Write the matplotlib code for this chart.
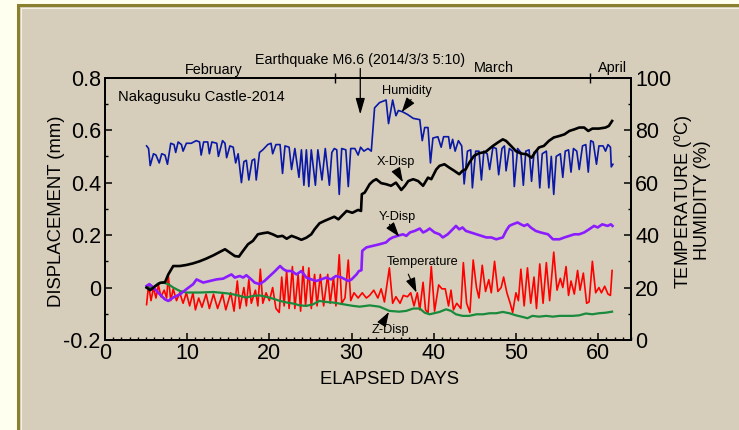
import matplotlib
matplotlib.use('Agg')
import matplotlib.pyplot as plt
from matplotlib.patches import Rectangle
from matplotlib.ticker import MultipleLocator, FuncFormatter

plt.rcParams['font.family'] = ['Liberation Sans', 'DejaVu Sans']
plt.rcParams['mathtext.fontset'] = 'custom'
plt.rcParams['mathtext.rm'] = 'Liberation Sans'
plt.rcParams['axes.unicode_minus'] = False

# Nakagusuku Castle monitoring, 2014 (day 0 = Feb 1)
# humidity (%) - (elapsed day, value)
humidity = [(5.06, 74), (5.3, 73), (5.5, 66.5), (5.9, 71), (6.2, 70.5), (6.6, 67.5), (6.9, 71),
            (7.3, 70.5), (7.6, 67), (8.0, 75), (8.4, 74.5), (8.6, 71.5), (8.9, 75.5), (9.3, 74.5),
            (9.5, 72), (9.9, 75), (10.5, 75), (11.1, 76), (11.5, 75.5), (11.7, 70.5), (12.0, 75.5),
            (12.5, 75.5), (12.7, 71), (13.0, 75.5), (13.6, 75), (13.8, 70), (14.3, 76), (14.6, 75),
            (14.8, 69.5), (15.2, 74), (15.6, 73.5), (15.9, 67.5), (16.2, 71), (16.6, 60), (16.9, 68),
            (17.2, 68.5), (17.5, 61), (17.9, 68.5), (18.2, 69), (18.4, 61), (18.8, 71.5), (19.2, 72.5),
            (19.8, 74.5), (20.2, 75), (20.4, 71), (20.8, 74.5), (21.3, 74.5), (21.6, 63.5), (21.9, 74),
            (22.4, 73.5), (22.7, 65), (23.1, 73), (23.6, 62), (23.9, 72.5), (24.2, 59), (24.5, 72.5),
            (24.8, 58.5), (25.1, 72.5), (25.6, 59), (25.9, 72.5), (26.4, 61), (26.8, 73), (27.3, 59),
            (27.6, 71.5), (27.9, 73), (28.2, 72.5), (28.5, 55.5), (28.8, 73), (29.3, 72.5), (29.6, 58.5),
            (29.9, 73), (30.4, 73), (30.8, 70.5), (31.1, 73.5), (31.5, 72), (32.0, 73), (32.4, 72),
            (32.8, 88.5), (33.4, 90.5), (34.2, 91.5), (34.5, 82.5), (35.0, 91.5), (35.4, 85.5),
            (35.7, 87.5), (36.2, 87), (36.8, 86), (37.5, 84.5), (38.3, 84), (38.6, 76), (38.9, 81),
            (39.3, 81), (39.6, 67.5), (39.9, 77), (40.5, 77.5), (40.9, 73.5), (41.2, 77.5), (41.8, 77.5),
            (42.0, 73), (42.3, 76.5), (42.6, 72), (43.0, 76), (43.4, 74), (43.7, 59.5), (44.1, 72),
            (44.5, 72.5), (44.7, 58), (45.1, 72), (45.5, 72), (45.8, 61), (46.1, 72), (46.5, 71),
            (46.8, 65), (47.2, 73.5), (47.6, 73), (47.9, 63), (48.3, 73), (48.6, 74), (48.8, 64.5),
            (49.2, 73), (49.6, 72), (49.8, 58.5), (50.2, 73), (50.6, 71.5), (50.9, 59), (51.2, 72),
            (51.6, 72.5), (51.9, 60.5), (52.2, 71.5), (52.6, 72.5), (52.9, 58), (53.2, 71), (53.7, 72),
            (54.0, 58), (54.3, 70), (54.6, 55.5), (54.9, 70), (55.4, 71), (55.7, 62), (56.0, 72),
            (56.4, 72.5), (56.7, 64), (57.0, 73), (57.4, 72), (57.7, 65), (58.1, 74), (58.5, 74.5),
            (58.8, 64), (59.1, 76), (59.4, 75.5), (59.8, 67), (60.1, 74), (60.6, 74), (60.9, 72),
            (61.2, 74.5), (61.5, 73.5), (61.6, 66), (61.8, 67)]

# temperature (deg C)
temperature = [(5.06, 13.5), (5.3, 21), (5.6, 15), (5.9, 20), (6.2, 16), (6.5, 21), (6.8, 16.5),
               (7.2, 19), (7.5, 16), (7.7, 24.5), (8.0, 15), (8.3, 19.5), (8.7, 15), (9.1, 18),
               (9.5, 14), (9.9, 18), (10.3, 13), (10.7, 18), (11.0, 11.5), (11.4, 16), (11.8, 12.5),
               (12.3, 17.5), (12.7, 12), (13.2, 17.5), (13.7, 12), (14.3, 17.5), (14.7, 11.5),
               (15.3, 18), (15.7, 11), (16.1, 22.5), (16.4, 12), (16.9, 20), (17.2, 13), (17.5, 23),
               (17.8, 14), (18.3, 19), (18.6, 13), (18.9, 27), (19.2, 14), (19.6, 18), (20.0, 15),
               (20.4, 20), (20.8, 12), (21.2, 10.5), (21.5, 24), (21.8, 13), (22.1, 26.5), (22.4, 12),
               (22.8, 28), (23.1, 12), (23.5, 25), (23.8, 11), (24.1, 28), (24.4, 13), (24.8, 27.5),
               (25.1, 12), (25.5, 25), (25.8, 13), (26.2, 25), (26.6, 13), (27.1, 25), (27.4, 14),
               (27.8, 24), (28.1, 13), (28.5, 32.5), (28.8, 14), (29.2, 16), (29.6, 30.5), (29.9, 15),
               (30.3, 18), (30.8, 16), (31.3, 18), (31.8, 16), (32.2, 17), (32.7, 19), (33.2, 16),
               (33.6, 19.5), (34.0, 14.5), (34.6, 27.5), (35.0, 14), (35.4, 16.5), (35.9, 14),
               (36.3, 17), (36.8, 16.5), (37.2, 18), (37.6, 13), (38.0, 18), (38.3, 11.5), (38.7, 22),
               (39.0, 11.5), (39.3, 10.3), (39.7, 28), (40.1, 11), (40.6, 21), (41.0, 19.5),
               (41.4, 19.5), (41.8, 13), (42.1, 19), (42.4, 11.5), (42.8, 14), (43.3, 12), (43.6, 29.5),
               (44.0, 14), (44.4, 10.5), (44.8, 30.5), (45.2, 20), (45.5, 16), (45.9, 28.5),
               (46.3, 18.5), (46.7, 23), (47.0, 18), (47.4, 30), (47.8, 18.5), (48.2, 20), (48.5, 24),
               (48.9, 18), (49.3, 14), (49.6, 10.5), (50.0, 18), (50.3, 15), (50.6, 27), (51.0, 13),
               (51.4, 27.5), (51.8, 14), (52.2, 24), (52.5, 12), (52.9, 29), (53.3, 14), (53.7, 29.5),
               (54.1, 15), (54.6, 33.5), (55.0, 19), (55.4, 23.5), (55.7, 20), (56.1, 28), (56.4, 17),
               (56.7, 22.5), (57.1, 17.5), (57.5, 26.5), (57.8, 19), (58.2, 25.5), (58.6, 14),
               (58.9, 14.5), (59.3, 30), (59.7, 18), (60.1, 20), (60.4, 18), (60.8, 20.5), (61.2, 17.5),
               (61.5, 17), (61.7, 26.5)]

# displacements (mm)
x_disp = [(5.06, 0.0), (5.5, -0.01), (6.1, 0.005), (6.7, 0.018), (7.3, 0.02), (7.7, 0.05),
          (8.3, 0.082), (9.1, 0.082), (9.9, 0.086), (10.7, 0.092), (11.5, 0.10), (12.3, 0.11),
          (13.2, 0.123), (13.8, 0.133), (14.6, 0.146), (15.2, 0.133), (15.8, 0.12), (16.3, 0.118),
          (16.8, 0.14), (17.4, 0.165), (18.0, 0.178), (18.6, 0.203), (19.2, 0.207), (19.8, 0.21),
          (20.4, 0.203), (21.0, 0.194), (21.6, 0.197), (22.1, 0.186), (22.7, 0.197), (23.3, 0.19),
          (23.9, 0.182), (24.5, 0.19), (25.1, 0.203), (25.5, 0.222), (26.1, 0.245), (26.7, 0.254),
          (27.3, 0.262), (27.9, 0.27), (28.4, 0.26), (28.8, 0.273), (29.4, 0.292), (30.1, 0.285),
          (30.8, 0.296), (31.15, 0.292), (31.25, 0.356), (31.6, 0.362), (32.2, 0.394), (32.6, 0.406),
          (33.0, 0.413), (33.6, 0.398), (34.2, 0.394), (34.8, 0.388), (35.4, 0.40), (36.05, 0.372),
          (36.5, 0.388), (36.9, 0.406), (37.5, 0.413), (38.1, 0.406), (38.7, 0.388), (39.3, 0.419),
          (39.7, 0.413), (40.3, 0.45), (40.7, 0.464), (41.3, 0.47), (41.9, 0.457), (42.5, 0.445),
          (43.1, 0.432), (43.5, 0.445), (43.9, 0.451), (44.3, 0.475), (44.9, 0.502), (45.5, 0.512),
          (46.3, 0.517), (47.2, 0.54), (47.8, 0.553), (48.4, 0.565), (48.8, 0.559), (49.4, 0.54),
          (50.0, 0.52), (50.6, 0.511), (51.3, 0.508), (51.9, 0.495), (52.3, 0.514), (52.8, 0.534),
          (53.4, 0.54), (54.0, 0.559), (54.6, 0.572), (55.3, 0.578), (55.9, 0.584), (56.5, 0.597),
          (57.1, 0.603), (57.7, 0.61), (58.3, 0.61), (58.8, 0.597), (59.3, 0.606), (60.1, 0.606),
          (60.9, 0.61), (61.3, 0.616), (61.7, 0.635)]

y_disp = [(5.06, 0.006), (5.39, 0.013), (5.67, 0.006), (6.08, -0.006), (6.68, -0.026), (7.29, -0.045),
          (7.7, -0.051), (8.3, -0.038), (9.11, -0.026), (9.92, -0.006), (10.73, 0.013), (11.14, 0.031),
          (11.54, 0.025), (11.95, 0.019), (12.76, 0.025), (13.57, 0.031), (14.38, 0.034),
          (14.99, 0.044), (15.39, 0.05), (15.8, 0.038), (16.4, 0.044), (16.8, 0.038), (17.2, 0.047),
          (17.8, 0.031), (18.2, 0.019), (18.8, 0.013), (19.4, 0.025), (20.05, 0.044), (20.7, 0.063),
          (21.3, 0.082), (21.7, 0.07), (22.1, 0.063), (22.7, 0.063), (23.3, 0.05), (23.9, 0.063),
          (24.5, 0.038), (25.1, 0.031), (25.7, 0.025), (26.3, 0.031), (26.9, 0.038), (27.5, 0.031),
          (28.1, 0.044), (28.8, 0.038), (29.6, 0.025), (30.0, 0.031), (30.6, 0.05), (30.9, 0.063),
          (31.2, 0.066), (31.3, 0.14), (31.8, 0.153), (32.6, 0.159), (33.4, 0.165), (34.2, 0.172),
          (34.6, 0.184), (35.0, 0.191), (35.6, 0.197), (36.25, 0.203), (36.66, 0.197), (37.1, 0.21),
          (37.7, 0.216), (38.3, 0.225), (38.7, 0.21), (39.1, 0.216), (39.5, 0.225), (40.1, 0.21),
          (40.7, 0.203), (41.1, 0.191), (41.7, 0.203), (42.3, 0.222), (42.7, 0.235), (43.1, 0.222),
          (43.5, 0.229), (43.9, 0.216), (44.5, 0.21), (45.2, 0.203), (45.8, 0.197), (46.4, 0.191),
          (47.0, 0.191), (47.6, 0.184), (48.4, 0.191), (48.8, 0.216), (49.2, 0.235), (49.6, 0.241),
          (50.2, 0.248), (50.6, 0.241), (51.0, 0.235), (51.4, 0.241), (51.8, 0.229), (52.4, 0.216),
          (53.0, 0.21), (53.9, 0.203), (54.5, 0.184), (55.3, 0.184), (55.9, 0.191), (56.5, 0.197),
          (57.1, 0.203), (57.7, 0.203), (58.3, 0.21), (58.9, 0.222), (59.5, 0.235), (59.95, 0.229),
          (60.5, 0.241), (61.15, 0.235), (61.55, 0.241), (61.75, 0.235)]

z_disp = [(5.06, 0.0), (5.87, 0.0), (6.48, 0.016), (7.1, 0.019), (7.7, 0.013), (8.3, 0.0),
          (9.1, -0.013), (9.9, -0.019), (11.5, -0.019), (13.2, -0.017), (14.8, -0.022),
          (15.6, -0.026), (16.4, -0.032), (17.2, -0.038), (18.0, -0.032), (18.8, -0.03),
          (19.6, -0.035), (20.4, -0.042), (21.3, -0.051), (22.1, -0.057), (22.9, -0.061),
          (23.7, -0.068), (24.5, -0.07), (25.3, -0.064), (26.1, -0.051), (26.9, -0.055),
          (27.7, -0.057), (28.5, -0.061), (29.4, -0.066), (30.2, -0.07), (31.0, -0.073),
          (32.2, -0.068), (33.4, -0.073), (34.6, -0.089), (35.8, -0.092), (36.66, -0.089),
          (37.5, -0.08), (38.3, -0.08), (38.9, -0.096), (39.5, -0.102), (39.9, -0.099),
          (40.7, -0.093), (41.5, -0.083), (42.1, -0.089), (42.7, -0.102), (43.5, -0.108),
          (44.3, -0.108), (45.2, -0.102), (46.0, -0.102), (46.8, -0.098), (47.6, -0.098),
          (48.4, -0.093), (49.2, -0.098), (50.0, -0.106), (50.8, -0.112), (51.4, -0.117),
          (52.0, -0.108), (52.8, -0.111), (53.7, -0.108), (54.5, -0.111), (55.3, -0.108),
          (56.9, -0.108), (57.7, -0.106), (58.5, -0.099), (59.3, -0.102), (60.1, -0.098),
          (60.9, -0.096), (61.7, -0.092)]

month_names = ['February', 'March', 'April']
month_start_days = [28, 59]   # March 1, April 1


def unzip(pairs):
    return [p[0] for p in pairs], [p[1] for p in pairs]


fig = plt.figure(figsize=(7.39, 4.30), dpi=100, facecolor='#fffff0')
# panel background with olive border on top/left
fig.add_artist(Rectangle((18 / 739, -0.1), 1.1, 1.1 - 5 / 430, transform=fig.transFigure,
                         facecolor='#d6ceba', edgecolor='#8a8030', lw=2.2, zorder=-2))
fig.add_artist(Rectangle((20.5 / 739, -0.1), 1.1, 1.1 - 7.5 / 430, transform=fig.transFigure,
                         facecolor='none', edgecolor='#f4f0e4', lw=0.8, zorder=-1))

ax = fig.add_axes([105 / 739, 90 / 430, 526 / 739, 262.3 / 430])
ax2 = ax.twinx()
ax.set_zorder(ax2.get_zorder() + 1)
ax.patch.set_visible(False)
ax2.patch.set_visible(False)

d, v = unzip(humidity)
ax2.plot(d, v, color='#0a18a8', lw=1.2)
d, v = unzip(temperature)
ax2.plot(d, v, color='#ff0000', lw=1.2)

d, v = unzip(z_disp)
ax.plot(d, v, color='#1a8a3c', lw=1.6)
d, v = unzip(y_disp)
ax.plot(d, v, color='#8a1cff', lw=1.9)
d, v = unzip(x_disp)
ax.plot(d, v, color='black', lw=1.9)

ax.set_xlim(0, 64)
ax.set_ylim(-0.2, 0.8)
ax2.set_ylim(0, 100)

ax.xaxis.set_major_locator(MultipleLocator(10))
ax.xaxis.set_minor_locator(MultipleLocator(1))
ax.yaxis.set_major_locator(MultipleLocator(0.2))
ax.yaxis.set_minor_locator(MultipleLocator(0.1))
ax.yaxis.set_major_formatter(FuncFormatter(lambda val, pos: '0' if abs(val) < 1e-9 else f'{val:.1f}'))
ax2.yaxis.set_major_locator(MultipleLocator(20))
ax2.yaxis.set_minor_locator(MultipleLocator(10))

for a in (ax, ax2):
    for s in a.spines.values():
        s.set_linewidth(1.4)
    a.tick_params(which='major', direction='in', length=5, width=1.1, labelsize=15.5, pad=3)
    a.tick_params(which='minor', direction='in', length=2.4, width=1.0)
ax.tick_params(right=False, which='both')
ax.tick_params(axis='x', which='major', pad=2)

# month boundaries on top
top = ax.secondary_xaxis('top')
top.set_xticks(month_start_days, labels=['', ''])
top.tick_params(direction='inout', length=7, width=1.0)
top.spines['top'].set_linewidth(1.4)

ax.text(13.2, 0.814, month_names[0], fontsize=10.4, ha='center', va='baseline', clip_on=False)
ax.text(47.3, 0.821, month_names[1], fontsize=10.4, ha='center', va='baseline', clip_on=False)
ax.text(61.7, 0.822, month_names[2], fontsize=10.4, ha='center', va='baseline', clip_on=False)

ax.text(31.0, 0.853, 'Earthquake M6.6 (2014/3/3 5:10)', fontsize=10.3, ha='center',
        va='baseline', clip_on=False)
ax.annotate('', xy=(31.06, 0.66), xytext=(31.06, 0.835), annotation_clip=False,
            arrowprops=dict(arrowstyle='-|>,head_length=0.7,head_width=0.2', color='black',
                            lw=0.9, mutation_scale=14, shrinkA=0, shrinkB=0))

ax.text(1.58, 0.71, 'Nakagusuku Castle-2014', fontsize=10.6, ha='left', va='baseline')

# series labels with pointers
labels = [('Humidity', (36.7, 0.748), (37.25, 0.717), (36.1, 0.669)),
          ('X-Disp', (35.4, 0.477), (35.5, 0.444), (36.25, 0.402)),
          ('Y-Disp', (35.6, 0.268), (34.6, 0.241), (35.8, 0.194)),
          ('Temperature', (38.6, 0.096), (36.9, 0.051), (37.9, -0.019)),
          ('Z-Disp', (34.75, -0.163), (33.8, -0.133), (34.55, -0.093))]
for name, txt_pos, tail, tip in labels:
    ax.text(txt_pos[0], txt_pos[1], name, fontsize=9.2, ha='center', va='center')
    ax.annotate('', xy=tip, xytext=tail, annotation_clip=False,
                arrowprops=dict(arrowstyle='-|>,head_length=0.75,head_width=0.25', color='black',
                                lw=0.8, mutation_scale=12, shrinkA=0, shrinkB=0))

fig.text(56.5 / 739, 1 - 211 / 430, 'DISPLACEMENT (mm)', rotation=90, fontsize=13.3,
         ha='center', va='center')
fig.text(389.7 / 739, 1 - 379 / 430, 'ELAPSED DAYS', fontsize=13.3, ha='center', va='center')
fig.text(683.5 / 739, 1 - 201.5 / 430, r'TEMPERATURE ($^\mathrm{o}$C)', rotation=90,
         fontsize=13.0, ha='center', va='center')
fig.text(702.5 / 739, 1 - 200 / 430, 'HUMIDITY (%)', rotation=90, fontsize=13.0,
         ha='center', va='center')

fig.savefig('out.png', dpi=100, facecolor=fig.get_facecolor())
